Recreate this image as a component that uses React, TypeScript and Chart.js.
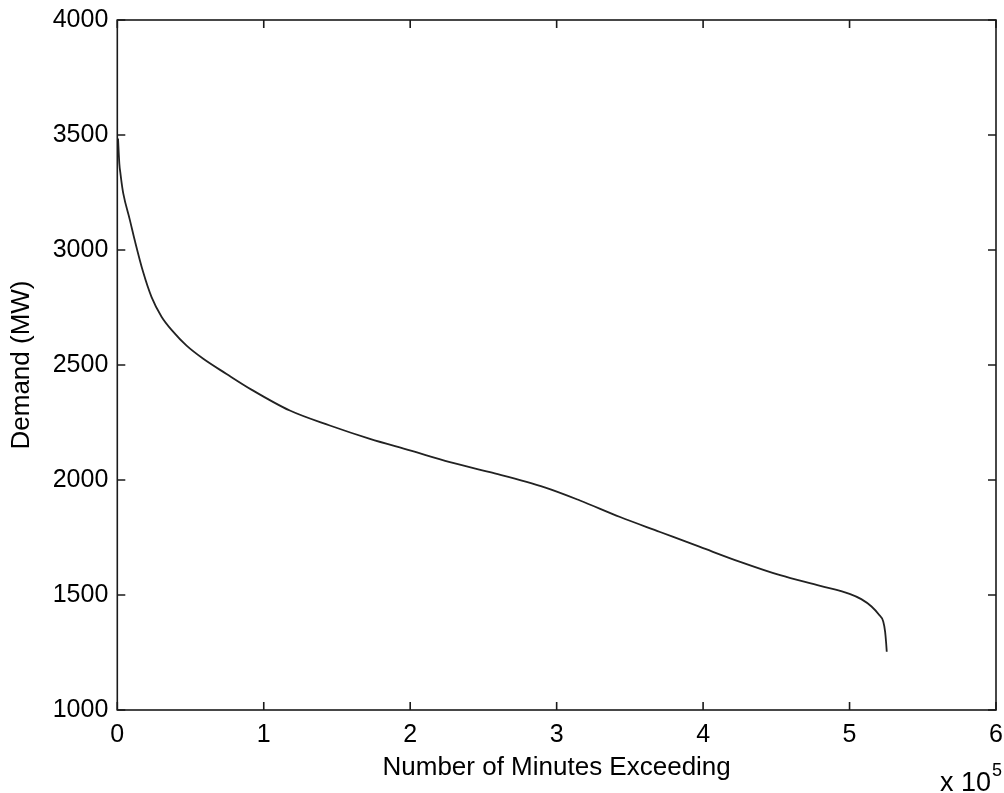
import React, { useEffect, useRef } from "react";
import { Chart, registerables } from "chart.js";

Chart.register(...registerables);

// Number of minutes exceeding (in units of 1e5 minutes)
const minutesE5 = [
  0.005, 0.014, 0.022, 0.03, 0.041, 0.086, 0.12, 0.176, 0.234, 0.302, 0.381,
  0.473, 0.587, 0.746, 0.916, 1.178, 1.451, 1.725, 1.998, 2.271, 2.545, 2.918,
  3.159, 3.433, 3.706, 3.979, 4.253, 4.526, 4.8, 5.0, 5.08, 5.15, 5.2,
  5.23, 5.243, 5.25, 5.254,
];
// Demand (MW)
const demandMW = [
  3485, 3375, 3330, 3290, 3245, 3130, 3040, 2905, 2795, 2710, 2645, 2584, 2527,
  2461, 2393, 2302, 2237, 2179, 2129, 2078, 2034, 1968, 1911, 1839, 1774, 1709,
  1644, 1586, 1540, 1505, 1482, 1450, 1415, 1385, 1340, 1290, 1253,
];
const xTicks = [0, 1, 2, 3, 4, 5, 6];
const yTicks = [1000, 1500, 2000, 2500, 3000, 3500, 4000];

const FAMILY = '"Liberation Sans", Arial, Helvetica, sans-serif';

const boxPlugin = {
  id: "matlabBox",
  afterDraw(chart: any) {
    const { ctx, chartArea: a, scales } = chart;
    ctx.save();
    ctx.strokeStyle = "#1a1a1a";
    ctx.lineWidth = 1.6;
    ctx.strokeRect(a.left, a.top, a.right - a.left, a.bottom - a.top);
    const L = 8;
    ctx.beginPath();
    for (const v of xTicks) {
      const px = scales.x.getPixelForValue(v);
      ctx.moveTo(px, a.bottom);
      ctx.lineTo(px, a.bottom - L);
      ctx.moveTo(px, a.top);
      ctx.lineTo(px, a.top + L);
    }
    for (const v of yTicks) {
      const py = scales.y.getPixelForValue(v);
      ctx.moveTo(a.left, py);
      ctx.lineTo(a.left + L, py);
      ctx.moveTo(a.right, py);
      ctx.lineTo(a.right - L, py);
    }
    ctx.stroke();
    // exponent label
    ctx.fillStyle = "#000";
    ctx.textBaseline = "alphabetic";
    ctx.textAlign = "right";
    ctx.font = `27px ${FAMILY}`;
    const ex = a.right - 5;
    ctx.fillText("x 10", ex, 791);
    ctx.textAlign = "left";
    ctx.font = `18px ${FAMILY}`;
    ctx.fillText("5", ex + 1, 776);
    ctx.restore();
  },
};

export default function App() {
  const ref = useRef<HTMLCanvasElement>(null);
  useEffect(() => {
    if (!ref.current) return;
    const chart = new Chart(ref.current, {
      type: "scatter",
      data: {
        datasets: [
          {
            data: minutesE5.map((x, i) => ({ x, y: demandMW[i] })),
            showLine: true,
            borderColor: "#222",
            borderWidth: 1.8,
            pointRadius: 0,
            cubicInterpolationMode: "monotone",
            fill: false,
          },
        ],
      },
      options: {
        responsive: false,
        animation: false,
        layout: { padding: { left: 0, top: 20, right: 8, bottom: 0 } },
        plugins: { legend: { display: false }, tooltip: { enabled: false } },
        scales: {
          x: {
            type: "linear",
            min: 0,
            max: 6,
            afterBuildTicks(s: any) {
              s.ticks = xTicks.map((v) => ({ value: v }));
            },
            ticks: {
              color: "#000",
              font: { size: 25, family: FAMILY },
              padding: 10,
              maxRotation: 0,
              autoSkip: false,
              callback: (v: any) => String(v),
            },
            grid: { display: false, drawTicks: false },
            border: { display: false },
            title: {
              display: true,
              text: "Number of Minutes Exceeding",
              color: "#000",
              font: { size: 26, family: FAMILY },
              padding: { top: 0, bottom: 10 },
            },
            afterFit(s: any) {
              s.height = 83;
              s.paddingLeft = 0;
              s.paddingRight = 0;
            },
          },
          y: {
            min: 1000,
            max: 4000,
            afterBuildTicks(s: any) {
              s.ticks = yTicks.map((v) => ({ value: v }));
            },
            ticks: {
              color: "#000",
              font: { size: 25, family: FAMILY },
              padding: 9,
              autoSkip: false,
              callback: (v: any) => String(v),
            },
            grid: { display: false, drawTicks: false },
            border: { display: false },
            title: {
              display: true,
              text: "Demand (MW)",
              color: "#000",
              font: { size: 26, family: FAMILY },
              padding: { top: 6, bottom: 0 },
            },
            afterFit(s: any) {
              s.width = 117.3;
              s.paddingTop = 0;
              s.paddingBottom = 0;
            },
          },
        },
      },
      plugins: [boxPlugin],
    } as any);
    return () => chart.destroy();
  }, []);
  return (
    <canvas
      ref={ref}
      width={1004}
      height={793}
      style={{ position: "absolute", left: 0, top: 0, display: "block", background: "#fff" }}
    />
  );
}
